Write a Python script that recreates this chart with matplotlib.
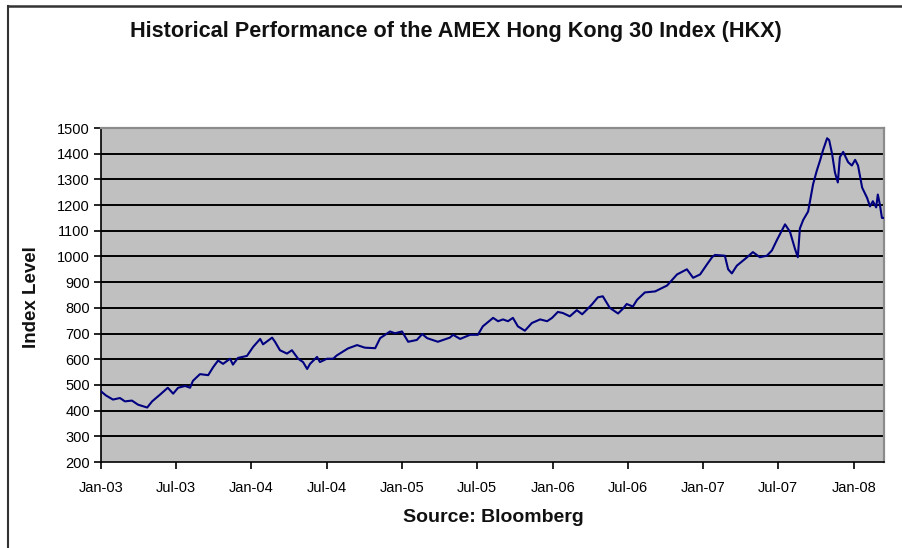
import matplotlib
matplotlib.use("Agg")
import matplotlib.pyplot as plt
from matplotlib.lines import Line2D
import pandas as pd

dates = [
    "2003-01-01", "2003-01-13", "2003-01-30", "2003-02-16", "2003-02-28", "2003-03-17",
    "2003-04-01", "2003-04-23", "2003-05-05", "2003-05-24", "2003-06-12", "2003-06-25",
    "2003-07-07", "2003-07-24", "2003-08-05", "2003-08-12", "2003-08-29", "2003-09-18",
    "2003-09-30", "2003-10-12", "2003-10-24", "2003-11-10", "2003-11-17", "2003-11-29",
    "2003-12-21", "2004-01-05", "2004-01-22", "2004-01-29", "2004-02-20", "2004-02-27",
    "2004-03-10", "2004-03-27", "2004-04-08", "2004-04-23", "2004-05-05", "2004-05-15",
    "2004-05-22", "2004-06-08", "2004-06-15", "2004-07-02", "2004-07-17", "2004-07-26",
    "2004-08-22", "2004-09-13", "2004-10-02", "2004-10-27", "2004-11-08", "2004-12-02",
    "2004-12-14", "2004-12-31", "2005-01-15", "2005-02-05", "2005-02-18", "2005-03-02",
    "2005-03-28", "2005-04-26", "2005-05-04", "2005-05-21", "2005-06-14", "2005-07-03",
    "2005-07-15", "2005-08-09", "2005-08-21", "2005-09-02", "2005-09-14", "2005-09-26",
    "2005-10-08", "2005-10-25", "2005-11-11", "2005-12-01", "2005-12-18", "2005-12-30",
    "2006-01-13", "2006-01-25", "2006-02-11", "2006-02-28", "2006-03-13", "2006-03-25",
    "2006-04-06", "2006-04-20", "2006-05-02", "2006-05-19", "2006-06-08", "2006-06-20",
    "2006-06-29", "2006-07-14", "2006-07-24", "2006-08-12", "2006-09-06", "2006-10-05",
    "2006-10-29", "2006-11-22", "2006-12-07", "2006-12-24", "2007-01-10", "2007-01-22",
    "2007-01-29", "2007-02-22", "2007-03-02", "2007-03-11", "2007-03-23", "2007-04-17",
    "2007-05-01", "2007-05-18", "2007-06-04", "2007-06-16", "2007-06-28", "2007-07-13",
    "2007-07-18", "2007-07-30", "2007-08-11", "2007-08-18", "2007-08-23", "2007-08-31",
    "2007-09-12", "2007-09-24", "2007-10-03", "2007-10-11", "2007-10-18", "2007-10-28",
    "2007-11-02", "2007-11-09", "2007-11-16", "2007-11-23", "2007-11-28", "2007-12-06",
    "2007-12-18", "2007-12-27", "2008-01-04", "2008-01-11", "2008-01-21", "2008-02-02",
    "2008-02-09", "2008-02-16", "2008-02-24", "2008-02-28", "2008-03-04", "2008-03-09",
    "2008-03-13",
]
index_level = [
    475, 459, 443, 449, 436, 439,
    423, 412, 436, 462, 489, 466,
    489, 496, 489, 516, 542, 538,
    569, 595, 582, 602, 579, 605,
    613, 648, 679, 658, 684, 668,
    635, 622, 635, 602, 589, 562,
    582, 609, 589, 602, 602, 615,
    642, 655, 645, 643, 682, 708,
    701, 708, 668, 675, 698, 682,
    668, 684, 695, 679, 695, 695,
    728, 761, 748, 755, 748, 761,
    728, 711, 741, 755, 748, 761,
    784, 780, 767, 791, 775, 794,
    814, 841, 845, 800, 778, 797,
    815, 805, 831, 860, 864, 887,
    930, 950, 917, 930, 970, 997,
    1006, 1003, 950, 934, 964, 997,
    1017, 997, 1003, 1023, 1063, 1109,
    1125, 1096, 1030, 997, 1109, 1142,
    1175, 1281, 1334, 1374, 1413, 1460,
    1453, 1400, 1327, 1288, 1387, 1407,
    1367, 1354, 1376, 1354, 1268, 1228,
    1195, 1215, 1191, 1241, 1202, 1150,
    1150,
]

title = "Historical Performance of the AMEX Hong Kong 30 Index (HKX)"
y_label = "Index Level"
x_label = "Source: Bloomberg"
y_ticks = list(range(200, 1501, 100))
x_tick_dates = ["2003-01-01", "2003-07-01", "2004-01-01", "2004-07-01", "2005-01-01",
                "2005-07-01", "2006-01-01", "2006-07-01", "2007-01-01", "2007-07-01",
                "2008-01-01"]
x_tick_labels = ["Jan-03", "Jul-03", "Jan-04", "Jul-04", "Jan-05", "Jul-05",
                 "Jan-06", "Jul-06", "Jan-07", "Jul-07", "Jan-08"]

plt.rcParams['font.family'] = ['Liberation Sans', 'DejaVu Sans']

W, H = 903, 548
fig = plt.figure(figsize=(W / 100, H / 100), dpi=100)
fig.patch.set_facecolor("white")

left, right, top, bottom = 101, 884, 128, 462
ax = fig.add_axes([left / W, 1 - bottom / H, (right - left) / W, (bottom - top) / H])
ax.set_facecolor("#C0C0C0")

x = pd.to_datetime(dates)
ax.plot(x, index_level, color="#000080", lw=1.5, zorder=3)

ax.set_ylim(200, 1500)
ax.set_yticks(y_ticks)
ax.set_yticklabels([str(v) for v in y_ticks], fontsize=10.5)
ax.set_xlim(pd.Timestamp("2003-01-01"), pd.Timestamp("2008-03-14"))
ax.set_xticks(pd.to_datetime(x_tick_dates))
ax.set_xticklabels(x_tick_labels, fontsize=10.5)

for v in y_ticks[1:-1]:
    ax.axhline(v, color="black", lw=1.4, zorder=2)

for side in ["top", "right"]:
    ax.spines[side].set_color("#8C8C8C")
    ax.spines[side].set_linewidth(1.6)
for side in ["left", "bottom"]:
    ax.spines[side].set_color("black")
    ax.spines[side].set_linewidth(1.2)

ax.tick_params(axis="y", direction="out", length=5, width=1.2, pad=3, colors="black")
ax.tick_params(axis="x", direction="out", length=5, width=1.2, pad=9, colors="black")

fig.text(456 / W, 1 - 32 / H, title, ha="center", va="center", fontsize=15.6,
         fontweight="bold", color="#111111")
fig.text(32 / W, 1 - 297 / H, y_label, ha="center", va="center", rotation=90,
         fontsize=13.5, fontweight="bold", color="#111111")
fig.text(493 / W, 1 - 517 / H, x_label, ha="center", va="center",
         fontsize=14, fontweight="bold", color="#111111")

fig.add_artist(Line2D([8 / W, 1.0], [1 - 5.5 / H, 1 - 5.5 / H], transform=fig.transFigure,
                      color="#333333", lw=1.8))
fig.add_artist(Line2D([8 / W, 8 / W], [1 - 5.5 / H, 0.0], transform=fig.transFigure,
                      color="#333333", lw=1.5))

fig.savefig("out.png", dpi=100)
